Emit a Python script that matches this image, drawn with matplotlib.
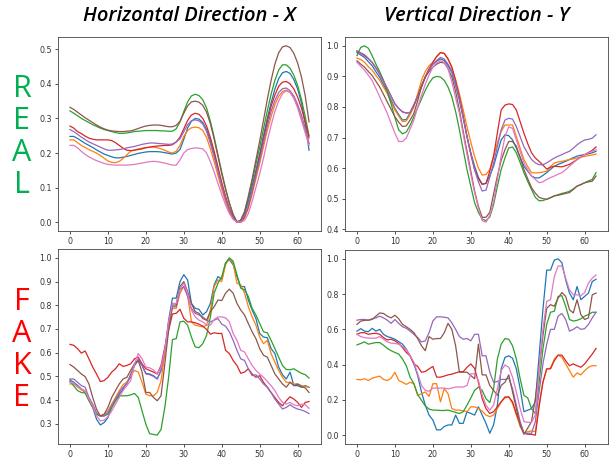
import numpy as np
import matplotlib
matplotlib.use('Agg')
import matplotlib.pyplot as plt

# frame index 0..63
x = np.arange(64)

# ---- Horizontal, REAL ----
hr_blue = [0.248,0.248,0.242,0.235,0.228,0.222,0.216,0.209,0.203,0.197,
           0.193,0.189,0.186,0.186,0.188,0.190,0.193,0.196,0.199,0.201,
           0.203,0.204,0.204,0.204,0.203,0.201,0.199,0.197,0.200,0.210,
           0.240,0.272,0.292,0.300,0.298,0.288,0.268,0.235,0.195,0.150,
           0.105,0.065,0.032,0.010,0.000,0.004,0.025,0.060,0.105,0.150,
           0.198,0.250,0.300,0.345,0.385,0.415,0.432,0.436,0.430,0.412,
           0.385,0.345,0.285,0.208]
hr_orange = [0.238,0.238,0.230,0.222,0.216,0.210,0.205,0.200,0.193,0.185,
             0.177,0.173,0.172,0.176,0.184,0.195,0.205,0.209,0.212,0.214,
             0.216,0.217,0.217,0.215,0.212,0.208,0.203,0.200,0.205,0.222,
             0.248,0.265,0.273,0.275,0.273,0.265,0.245,0.212,0.175,0.135,
             0.095,0.060,0.030,0.010,0.000,0.000,0.012,0.040,0.080,0.125,
             0.170,0.218,0.265,0.305,0.340,0.364,0.378,0.382,0.375,0.360,
             0.335,0.300,0.265,0.227]
hr_green = [0.322,0.315,0.308,0.300,0.294,0.288,0.282,0.277,0.272,0.268,
            0.265,0.262,0.259,0.257,0.257,0.258,0.260,0.262,0.263,0.264,
            0.265,0.265,0.265,0.265,0.264,0.264,0.263,0.263,0.270,0.290,
            0.320,0.348,0.365,0.370,0.366,0.354,0.330,0.292,0.246,0.195,
            0.145,0.098,0.056,0.022,0.000,0.006,0.030,0.070,0.118,0.168,
            0.217,0.270,0.322,0.370,0.410,0.440,0.455,0.455,0.445,0.425,
            0.395,0.355,0.305,0.250]
hr_red = [0.278,0.272,0.262,0.256,0.249,0.243,0.240,0.238,0.238,0.238,
          0.238,0.236,0.230,0.222,0.214,0.208,0.207,0.208,0.210,0.212,
          0.215,0.217,0.219,0.220,0.221,0.222,0.222,0.224,0.232,0.246,
          0.270,0.294,0.310,0.315,0.312,0.300,0.278,0.245,0.205,0.160,
          0.115,0.075,0.040,0.014,0.001,0.000,0.015,0.045,0.090,0.140,
          0.189,0.240,0.290,0.335,0.368,0.393,0.405,0.407,0.400,0.385,
          0.362,0.330,0.290,0.244]
hr_purple = [0.268,0.262,0.254,0.246,0.239,0.232,0.227,0.222,0.217,0.212,
             0.208,0.208,0.209,0.210,0.212,0.215,0.217,0.219,0.222,0.225,
             0.227,0.229,0.229,0.228,0.227,0.226,0.225,0.226,0.232,0.241,
             0.262,0.282,0.293,0.296,0.293,0.284,0.262,0.228,0.190,0.148,
             0.105,0.068,0.036,0.012,0.000,0.002,0.018,0.048,0.090,0.135,
             0.180,0.230,0.278,0.320,0.352,0.375,0.386,0.388,0.380,0.365,
             0.340,0.310,0.272,0.227]
hr_brown = [0.332,0.326,0.318,0.310,0.302,0.295,0.288,0.281,0.275,0.270,
            0.266,0.264,0.263,0.262,0.262,0.263,0.264,0.267,0.271,0.275,
            0.278,0.280,0.281,0.281,0.280,0.278,0.276,0.276,0.280,0.292,
            0.315,0.336,0.348,0.350,0.347,0.338,0.318,0.285,0.240,0.190,
            0.140,0.095,0.055,0.022,0.002,0.005,0.030,0.075,0.125,0.180,
            0.235,0.295,0.355,0.410,0.457,0.490,0.507,0.510,0.505,0.488,
            0.460,0.420,0.365,0.290]
hr_pink = [0.222,0.222,0.215,0.205,0.196,0.189,0.183,0.178,0.174,0.170,
           0.167,0.166,0.165,0.165,0.165,0.165,0.166,0.167,0.169,0.171,
           0.173,0.175,0.176,0.175,0.173,0.171,0.168,0.165,0.165,0.180,
           0.200,0.210,0.213,0.215,0.214,0.212,0.200,0.175,0.145,0.112,
           0.080,0.050,0.025,0.008,0.001,0.000,0.005,0.025,0.060,0.100,
           0.140,0.185,0.235,0.280,0.320,0.350,0.372,0.380,0.375,0.358,
           0.330,0.294,0.258,0.222]

# ---- Vertical, REAL ----
vr_blue = [0.978,0.970,0.962,0.948,0.935,0.915,0.897,0.873,0.849,0.822,
           0.795,0.775,0.757,0.759,0.780,0.806,0.838,0.870,0.898,0.922,
           0.940,0.950,0.957,0.952,0.935,0.913,0.870,0.822,0.764,0.703,
           0.650,0.606,0.570,0.547,0.550,0.575,0.606,0.650,0.692,0.709,
           0.706,0.692,0.665,0.636,0.606,0.590,0.574,0.568,0.568,0.576,
           0.585,0.596,0.606,0.612,0.617,0.622,0.628,0.634,0.639,0.642,
           0.644,0.647,0.650,0.655]
vr_orange = [0.960,0.955,0.946,0.932,0.920,0.903,0.887,0.865,0.843,0.816,
             0.790,0.770,0.752,0.754,0.775,0.800,0.843,0.887,0.916,0.935,
             0.946,0.965,0.978,0.975,0.955,0.930,0.890,0.843,0.790,0.735,
             0.685,0.638,0.600,0.577,0.579,0.595,0.640,0.682,0.720,0.741,
             0.741,0.741,0.703,0.665,0.628,0.605,0.585,0.584,0.585,0.587,
             0.590,0.605,0.617,0.620,0.622,0.625,0.628,0.630,0.633,0.636,
             0.638,0.641,0.643,0.646]
vr_green = [0.968,0.995,1.000,0.992,0.968,0.940,0.915,0.887,0.850,0.810,
            0.765,0.725,0.712,0.718,0.740,0.768,0.798,0.826,0.854,0.878,
            0.895,0.900,0.898,0.887,0.865,0.833,0.785,0.725,0.660,0.595,
            0.540,0.487,0.455,0.433,0.428,0.440,0.480,0.540,0.595,0.633,
            0.666,0.669,0.650,0.618,0.585,0.556,0.530,0.504,0.493,0.494,
            0.498,0.503,0.509,0.513,0.517,0.520,0.524,0.532,0.541,0.546,
            0.552,0.558,0.563,0.585]
vr_red = [0.982,0.976,0.968,0.958,0.946,0.928,0.908,0.885,0.860,0.835,
          0.810,0.795,0.784,0.780,0.782,0.805,0.833,0.866,0.898,0.925,
          0.946,0.965,0.978,0.975,0.958,0.930,0.885,0.833,0.770,0.703,
          0.645,0.595,0.565,0.547,0.550,0.590,0.638,0.715,0.790,0.806,
          0.810,0.808,0.790,0.752,0.714,0.680,0.650,0.633,0.622,0.610,
          0.597,0.603,0.606,0.605,0.604,0.608,0.612,0.620,0.628,0.636,
          0.644,0.651,0.658,0.669]
vr_purple = [0.984,0.977,0.971,0.959,0.946,0.927,0.908,0.884,0.860,0.835,
             0.810,0.795,0.784,0.780,0.782,0.808,0.833,0.866,0.898,0.922,
             0.940,0.952,0.962,0.957,0.940,0.918,0.876,0.827,0.765,0.703,
             0.649,0.595,0.555,0.525,0.528,0.570,0.616,0.670,0.725,0.757,
             0.763,0.760,0.736,0.703,0.670,0.648,0.628,0.617,0.611,0.611,
             0.617,0.625,0.633,0.639,0.644,0.650,0.655,0.665,0.676,0.685,
             0.692,0.694,0.698,0.709]
vr_brown = [0.951,0.940,0.930,0.916,0.903,0.884,0.865,0.841,0.816,0.792,
            0.768,0.750,0.736,0.738,0.757,0.779,0.820,0.866,0.898,0.916,
            0.930,0.940,0.946,0.944,0.925,0.898,0.850,0.790,0.720,0.655,
            0.590,0.525,0.475,0.439,0.439,0.455,0.515,0.574,0.625,0.660,
            0.687,0.687,0.671,0.633,0.595,0.565,0.536,0.518,0.504,0.500,
            0.498,0.503,0.509,0.511,0.514,0.517,0.520,0.530,0.541,0.546,
            0.552,0.555,0.557,0.574]
vr_pink = [0.946,0.933,0.920,0.904,0.887,0.860,0.833,0.806,0.779,0.746,
           0.714,0.687,0.687,0.698,0.727,0.757,0.800,0.838,0.874,0.905,
           0.930,0.945,0.951,0.946,0.925,0.882,0.830,0.779,0.710,0.644,
           0.580,0.520,0.470,0.428,0.423,0.445,0.490,0.563,0.640,0.703,
           0.735,0.730,0.692,0.655,0.617,0.595,0.574,0.563,0.552,0.555,
           0.563,0.569,0.574,0.580,0.585,0.595,0.606,0.617,0.628,0.636,
           0.644,0.650,0.655,0.660]

# ---- Horizontal, FAKE ----
hf_blue = [0.485,0.475,0.462,0.447,0.432,0.404,0.369,0.319,0.295,0.305,
           0.326,0.369,0.397,0.425,0.447,0.475,0.496,0.546,0.567,0.546,
           0.513,0.510,0.503,0.489,0.525,0.610,0.737,0.830,0.830,0.900,
           0.929,0.907,0.808,0.787,0.783,0.759,0.773,0.808,0.886,0.921,
           0.910,0.978,0.993,0.971,0.921,0.879,0.879,0.822,0.780,0.744,
           0.681,0.666,0.663,0.617,0.596,0.539,0.507,0.489,0.518,0.461,
           0.461,0.454,0.461,0.454]
hf_orange = [0.468,0.468,0.455,0.443,0.436,0.400,0.369,0.340,0.333,0.340,
             0.354,0.383,0.411,0.440,0.465,0.475,0.503,0.525,0.518,0.475,
             0.425,0.418,0.418,0.432,0.482,0.596,0.709,0.787,0.787,0.851,
             0.879,0.843,0.730,0.716,0.712,0.709,0.716,0.780,0.879,0.907,
             0.900,0.971,0.998,0.978,0.893,0.886,0.851,0.794,0.751,0.716,
             0.666,0.638,0.652,0.596,0.560,0.525,0.496,0.475,0.475,0.468,
             0.468,0.461,0.457,0.454]
hf_green = [0.479,0.460,0.440,0.432,0.430,0.397,0.369,0.340,0.333,0.333,
            0.340,0.369,0.397,0.418,0.418,0.418,0.422,0.428,0.411,0.354,
            0.298,0.258,0.255,0.252,0.276,0.369,0.496,0.655,0.659,0.730,
            0.733,0.716,0.666,0.624,0.621,0.638,0.673,0.751,0.851,0.893,
            0.921,0.978,1.000,0.986,0.929,0.872,0.865,0.837,0.787,0.759,
            0.723,0.688,0.684,0.652,0.617,0.581,0.546,0.529,0.528,0.532,
            0.522,0.513,0.507,0.493]
hf_red = [0.635,0.631,0.617,0.598,0.607,0.574,0.539,0.510,0.478,0.482,
          0.496,0.518,0.532,0.553,0.542,0.546,0.553,0.574,0.581,0.553,
          0.532,0.525,0.518,0.510,0.546,0.624,0.695,0.763,0.766,0.783,
          0.745,0.730,0.730,0.726,0.720,0.712,0.698,0.678,0.684,0.681,
          0.681,0.610,0.596,0.567,0.546,0.513,0.518,0.532,0.510,0.496,
          0.503,0.475,0.454,0.432,0.411,0.390,0.376,0.397,0.414,0.404,
          0.390,0.369,0.390,0.394]
hf_purple = [0.489,0.489,0.475,0.461,0.454,0.411,0.383,0.347,0.333,0.333,
             0.347,0.376,0.404,0.432,0.454,0.468,0.510,0.546,0.574,0.546,
             0.510,0.507,0.500,0.489,0.525,0.610,0.723,0.794,0.794,0.865,
             0.879,0.837,0.787,0.766,0.759,0.751,0.737,0.730,0.737,0.744,
             0.720,0.712,0.688,0.652,0.610,0.574,0.567,0.532,0.503,0.507,
             0.489,0.468,0.454,0.432,0.404,0.383,0.362,0.369,0.380,0.369,
             0.362,0.358,0.352,0.343]
hf_brown = [0.550,0.539,0.525,0.510,0.499,0.468,0.411,0.362,0.333,0.340,
            0.369,0.411,0.440,0.468,0.489,0.496,0.525,0.553,0.567,0.518,
            0.432,0.432,0.411,0.397,0.418,0.553,0.695,0.801,0.801,0.879,
            0.900,0.858,0.808,0.773,0.766,0.744,0.737,0.773,0.794,0.822,
            0.820,0.851,0.868,0.851,0.808,0.780,0.759,0.723,0.688,0.659,
            0.617,0.589,0.581,0.546,0.510,0.489,0.468,0.454,0.475,0.461,
            0.468,0.457,0.451,0.432]
hf_pink = [0.475,0.471,0.457,0.447,0.440,0.404,0.376,0.333,0.312,0.315,
           0.330,0.354,0.383,0.411,0.440,0.461,0.482,0.553,0.596,0.574,
           0.539,0.536,0.527,0.510,0.539,0.610,0.730,0.808,0.808,0.868,
           0.893,0.851,0.780,0.751,0.737,0.730,0.716,0.716,0.740,0.751,
           0.751,0.747,0.730,0.681,0.652,0.610,0.603,0.574,0.546,0.525,
           0.510,0.496,0.479,0.461,0.440,0.411,0.390,0.383,0.390,0.380,
           0.376,0.383,0.380,0.365]

# ---- Vertical, FAKE ----
vf_blue = [0.590,0.604,0.590,0.587,0.606,0.590,0.600,0.572,0.559,0.553,
           0.544,0.530,0.516,0.488,0.450,0.404,0.338,0.245,0.170,0.114,
           0.086,0.030,0.030,0.049,0.058,0.058,0.114,0.067,0.067,0.133,
           0.123,0.114,0.161,0.114,0.067,0.011,0.058,0.170,0.376,0.441,
           0.450,0.436,0.376,0.264,0.133,0.142,0.151,0.189,0.450,0.712,
           0.936,0.936,0.993,1.000,0.978,0.880,0.806,0.768,0.843,0.768,
           0.787,0.806,0.871,0.884]
vf_orange = [0.316,0.314,0.320,0.310,0.323,0.329,0.335,0.316,0.310,0.323,
             0.357,0.310,0.300,0.288,0.300,0.292,0.226,0.235,0.245,0.220,
             0.292,0.292,0.189,0.264,0.235,0.151,0.142,0.142,0.138,0.133,
             0.161,0.161,0.151,0.136,0.114,0.105,0.114,0.151,0.189,0.211,
             0.217,0.179,0.114,0.049,0.011,0.020,0.024,0.020,0.179,0.300,
             0.376,0.380,0.432,0.454,0.441,0.404,0.366,0.329,0.353,0.342,
             0.366,0.385,0.394,0.394]
vf_green = [0.512,0.520,0.529,0.516,0.521,0.525,0.525,0.510,0.492,0.479,
            0.469,0.460,0.432,0.394,0.329,0.292,0.230,0.198,0.166,0.148,
            0.142,0.142,0.140,0.140,0.142,0.136,0.129,0.123,0.133,0.170,
            0.211,0.254,0.273,0.254,0.207,0.185,0.264,0.432,0.516,0.548,
            0.544,0.507,0.432,0.320,0.226,0.211,0.151,0.123,0.300,0.488,
            0.628,0.697,0.703,0.787,0.791,0.731,0.656,0.647,0.651,0.660,
            0.675,0.684,0.697,0.697]
vf_red = [0.572,0.581,0.581,0.572,0.576,0.578,0.572,0.553,0.540,0.544,
          0.535,0.520,0.497,0.469,0.450,0.404,0.390,0.357,0.361,0.376,
          0.390,0.329,0.329,0.335,0.342,0.346,0.353,0.360,0.360,0.385,
          0.404,0.379,0.300,0.207,0.151,0.123,0.133,0.161,0.189,0.217,
          0.217,0.189,0.123,0.067,0.011,0.005,0.005,0.000,0.161,0.300,
          0.376,0.376,0.422,0.454,0.454,0.422,0.394,0.404,0.394,0.385,
          0.404,0.432,0.460,0.492]
vf_purple = [0.652,0.656,0.656,0.652,0.660,0.665,0.675,0.665,0.652,0.634,
             0.656,0.634,0.615,0.606,0.590,0.572,0.553,0.529,0.535,0.581,
             0.647,0.671,0.671,0.669,0.665,0.637,0.600,0.559,0.544,0.548,
             0.535,0.572,0.572,0.450,0.450,0.357,0.300,0.304,0.316,0.316,
             0.323,0.264,0.170,0.077,0.011,0.011,0.011,0.077,0.245,0.404,
             0.516,0.600,0.600,0.675,0.690,0.656,0.590,0.600,0.615,0.600,
             0.604,0.628,0.665,0.697]
vf_brown = [0.628,0.647,0.651,0.652,0.656,0.675,0.693,0.690,0.675,0.665,
            0.680,0.660,0.628,0.615,0.600,0.581,0.548,0.507,0.479,0.559,
            0.544,0.548,0.548,0.581,0.634,0.600,0.507,0.357,0.357,0.357,
            0.338,0.320,0.516,0.342,0.342,0.282,0.254,0.226,0.282,0.300,
            0.342,0.245,0.151,0.058,0.005,0.040,0.077,0.207,0.376,0.563,
            0.720,0.740,0.731,0.777,0.809,0.787,0.712,0.693,0.768,0.684,
            0.656,0.665,0.796,0.806]
vf_pink = [0.572,0.559,0.553,0.550,0.550,0.550,0.559,0.544,0.529,0.522,
           0.520,0.516,0.503,0.484,0.450,0.413,0.348,0.282,0.254,0.249,
           0.267,0.267,0.267,0.267,0.263,0.267,0.273,0.273,0.273,0.282,
           0.348,0.348,0.310,0.226,0.170,0.142,0.170,0.264,0.366,0.398,
           0.385,0.329,0.245,0.151,0.077,0.073,0.073,0.114,0.376,0.600,
           0.759,0.768,0.899,0.959,0.959,0.890,0.824,0.796,0.796,0.791,
           0.809,0.862,0.890,0.908]

titles = ['Horizontal Direction - X', 'Vertical Direction - Y']
row_labels = ['REAL', 'FAKE']
row_colors = ['#00b050', '#ff0000']

panels = [
    [hr_blue, hr_orange, hr_green, hr_red, hr_purple, hr_brown, hr_pink],
    [vr_blue, vr_orange, vr_green, vr_red, vr_purple, vr_brown, vr_pink],
    [hf_blue, hf_orange, hf_green, hf_red, hf_purple, hf_brown, hf_pink],
    [vf_blue, vf_orange, vf_green, vf_red, vf_purple, vf_brown, vf_pink],
]

W, H = 613, 458
fig = plt.figure(figsize=(W / 100, H / 100), dpi=100)

# axes boxes in pixels: left, top, right, bottom
boxes = [(58, 37, 321, 231), (345, 37, 608, 231),
         (58, 249, 321, 444), (345, 250, 608, 444)]

for k, (l, t, r, b) in enumerate(boxes):
    ax = fig.add_axes([l / W, 1 - b / H, (r - l) / W, (b - t) / H])
    for series in panels[k]:
        ax.plot(x, series, lw=0.9)
    ax.tick_params(labelsize=5.7, length=2.5, width=0.6, pad=1.8, colors='#333333')
    for s in ax.spines.values():
        s.set_linewidth(0.6)
        s.set_color('#444444')

# column titles
for (l, t, r, b), title in zip(boxes[:2], titles):
    fig.text((l + r) / 2 / W, 1 - 16 / H, title, ha='center', va='center',
             fontsize=14.5, style='italic', fontweight='semibold',
             family=['Open Sans', 'DejaVu Sans'])

# row labels, one letter per line
for (l, t, r, b), word, col in zip([boxes[0], boxes[2]], row_labels, row_colors):
    mid = (t + b) / 2 + 3
    step = 32
    for j, ch in enumerate(word):
        yy = mid + (j - 1.5) * step
        fig.text(22 / W, 1 - yy / H, ch, ha='center', va='center',
                 fontsize=22, color=col, family=['Open Sans', 'DejaVu Sans'])

fig.savefig('out.png', dpi=100)
